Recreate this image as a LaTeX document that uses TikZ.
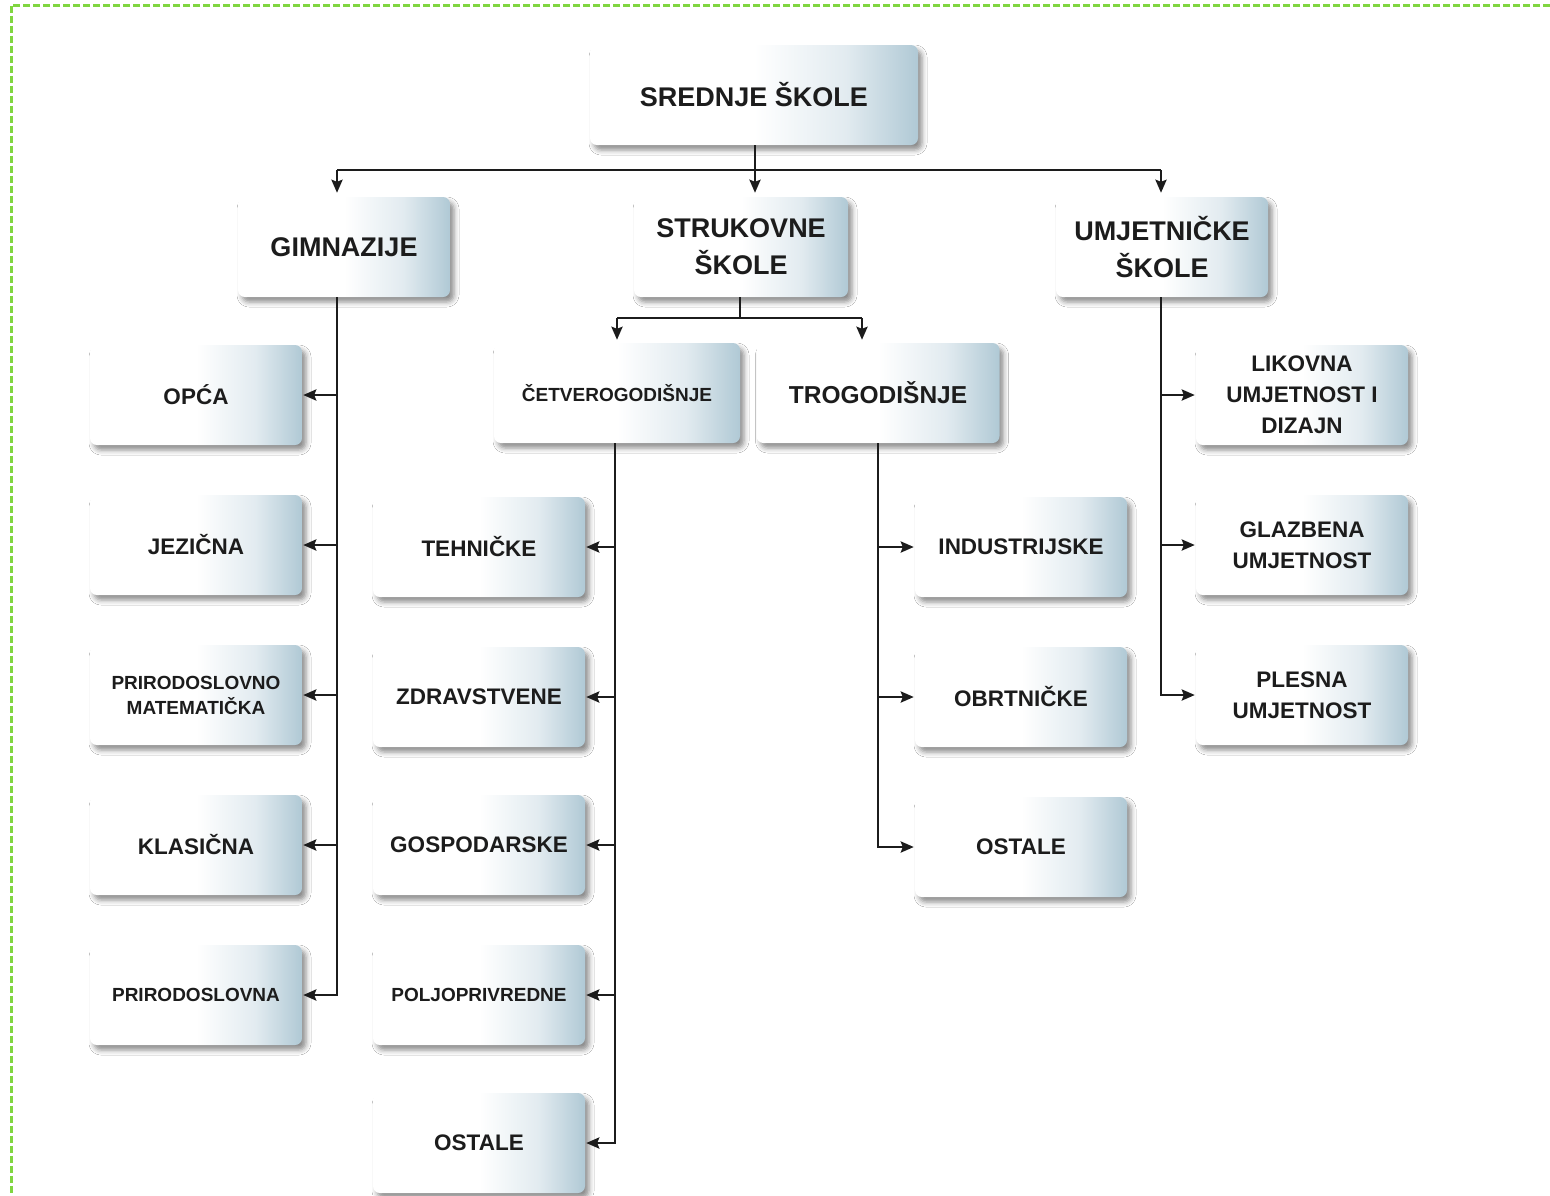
\documentclass[tikz,border=0pt]{standalone}
\usepackage{fontspec}
\setmainfont{Liberation Sans}
\usetikzlibrary{arrows.meta,shadows.blur,calc}
\definecolor{boxR}{RGB}{176,201,213}
\definecolor{boxM}{RGB}{226,235,240}
\definecolor{ink}{RGB}{28,28,28}
\definecolor{frameG}{RGB}{128,214,64}
\pgfdeclarehorizontalshading{boxshade}{100bp}{color(0bp)=(white); color(25bp)=(white); color(50bp)=(white); color(64bp)=(boxM); color(75bp)=(boxR); color(100bp)=(boxR)}
\tikzset{
  box/.style={rounded corners=7pt, shading=boxshade,
    blur shadow={shadow xshift=4pt,shadow yshift=-5pt,shadow blur radius=5pt,shadow opacity=45},
    minimum height=100pt, minimum width=212pt, inner sep=0pt, align=center, text=ink},
  big/.style={box, font=\bfseries\fontsize{27}{37}\selectfont},
  mid/.style={box, font=\bfseries\fontsize{24.5}{32}\selectfont},
  leaf/.style={box, font=\bfseries\fontsize{22.5}{31}\selectfont},
  small/.style={box, font=\bfseries\fontsize{19}{25}\selectfont},
  conn/.style={draw=ink, line width=2.6pt},
  arr/.style={conn, -{Stealth[length=13pt,width=11pt,inset=2pt]}, shorten >=1pt},
  frame/.style={draw=frameG, line width=3pt, dash pattern=on 7pt off 3pt},
}
\begin{document}
\begin{tikzpicture}[x=1pt,y=-1pt]
\useasboundingbox (0,0) rectangle (1550,1195);
\fill[white] (0,0) rectangle (1550,1195);
\draw[frame] (1550,5) -- (11,5) -- (11,1195);

% top
\node[big, minimum width=328pt] (sred) at (754,95) {SREDNJE ŠKOLE};
% level 2
\node[big] (gim) at (344,247) {GIMNAZIJE};
\node[big, minimum width=214pt] (str) at (741,247) {STRUKOVNE\\ŠKOLE};
\node[big] (umj) at (1162,247) {UMJETNIČKE\\ŠKOLE};
% level 3 under strukovne
\node[small, minimum width=246pt] (cet) at (617,393) {ČETVEROGODIŠNJE};
\node[mid, minimum width=243pt] (tro) at (878,393) {TROGODIŠNJE};
% gimnazije column
\node[leaf] (opca) at (196,395) {OPĆA};
\node[leaf] (jez) at (196,545) {JEZIČNA};
\node[small] (primat) at (196,695) {PRIRODOSLOVNO\\MATEMATIČKA};
\node[leaf] (klas) at (196,845) {KLASIČNA};
\node[small] (prir) at (196,995) {PRIRODOSLOVNA};
% cetverogodisnje column
\node[leaf] (teh) at (479,547) {TEHNIČKE};
\node[leaf] (zdr) at (479,697) {ZDRAVSTVENE};
\node[leaf] (gosp) at (479,845) {GOSPODARSKE};
\node[small] (polj) at (479,995) {POLJOPRIVREDNE};
\node[leaf] (ostA) at (479,1143) {OSTALE};
% trogodisnje column
\node[leaf] (ind) at (1021,547) {INDUSTRIJSKE};
\node[leaf] (obr) at (1021,697) {OBRTNIČKE};
\node[leaf] (ostB) at (1021,847) {OSTALE};
% umjetnicke column
\node[leaf] (lik) at (1302,395) {LIKOVNA\\UMJETNOST I\\DIZAJN};
\node[leaf] (glaz) at (1302,545) {GLAZBENA\\UMJETNOST};
\node[leaf] (ples) at (1302,695) {PLESNA\\UMJETNOST};

% trunk coordinates
\coordinate (hub) at (755,170);
\coordinate (gimT) at (337,297);
\coordinate (umjT) at (1161,297);
\coordinate (strB) at (740,318);
\coordinate (cetA) at (617,318);
\coordinate (troA) at (862,318);
\coordinate (cetT) at (615,443);
\coordinate (troT) at (878,443);

% top connectors
\draw[conn] (sred.south -| hub) -- (hub);
\draw[conn] (gimT |- hub) -- (umjT |- hub);
\draw[arr, shorten >=4pt] (hub) -- (hub |- str.north);
\draw[arr, shorten >=4pt] (gimT |- hub) -- (gimT |- gim.north);
\draw[arr, shorten >=4pt] (umjT |- hub) -- (umjT |- umj.north);

% strukovne split
\draw[conn] (strB |- str.south) -- (strB);
\draw[conn] (cetA) -- (troA);
\draw[arr, shorten >=3pt] (cetA) -- (cetA |- cet.north);
\draw[arr, shorten >=3pt] (troA) -- (troA |- tro.north);

% gimnazije branches
\draw[arr] (gimT) |- (prir.east);
\draw[arr] (gimT |- opca.east) -- (opca.east);
\draw[arr] (gimT |- jez.east) -- (jez.east);
\draw[arr] (gimT |- primat.east) -- (primat.east);
\draw[arr] (gimT |- klas.east) -- (klas.east);

% cetverogodisnje branches
\draw[arr] (cetT) |- (ostA.east);
\draw[arr] (cetT |- teh.east) -- (teh.east);
\draw[arr] (cetT |- zdr.east) -- (zdr.east);
\draw[arr] (cetT |- gosp.east) -- (gosp.east);
\draw[arr] (cetT |- polj.east) -- (polj.east);

% trogodisnje branches
\draw[arr] (troT) |- (ostB.west);
\draw[arr] (troT |- ind.west) -- (ind.west);
\draw[arr] (troT |- obr.west) -- (obr.west);

% umjetnicke branches
\draw[arr] (umjT) |- (ples.west);
\draw[arr] (umjT |- lik.west) -- (lik.west);
\draw[arr] (umjT |- glaz.west) -- (glaz.west);
\end{tikzpicture}
\end{document}
